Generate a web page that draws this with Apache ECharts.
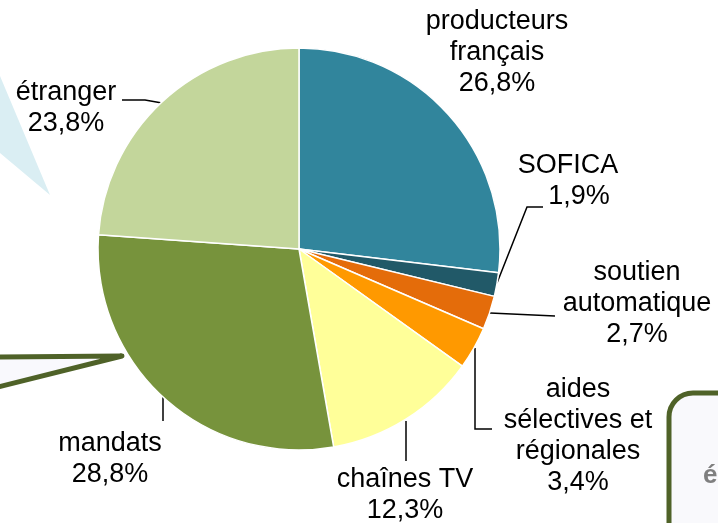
<!DOCTYPE html>
<html>
<head>
<meta charset="utf-8">
<script src="https://cdn.jsdelivr.net/npm/echarts@6/dist/echarts.min.js"></script>
<style>
  html, body { margin: 0; padding: 0; background: #fff; }
  #chart { width: 718px; height: 523px; }
</style>
</head>
<body>
<div id="chart"></div>
<script>
// parts of the financing (%), clockwise from 12 o'clock
const categories = ['producteurs\nfrançais', 'SOFICA', 'soutien\nautomatique', 'aides\nsélectives et\nrégionales', 'chaînes TV', 'mandats', 'étranger']
const values = [26.8, 1.9, 2.7, 3.4, 12.3, 28.8, 23.8]
const percentLabels = ['26,8%', '1,9%', '2,7%', '3,4%', '12,3%', '28,8%', '23,8%']
const colors = ['#31859C', '#215968', '#E46C0A', '#FF9900', '#FFFF99', '#77933C', '#C3D69B']

// where each label sits and how its guide line runs
const labelPos = [
  { x: 497, y: 53 },
  { x: 568, y: 181, line: [[497, 283], [527, 207], [543, 207]] },
  { x: 637, y: 304, line: [[490, 313], [555, 316]] },
  { x: 578, y: 436, line: [[475, 348], [475, 429], [492, 429]] },
  { x: 405, y: 495, line: [[406, 421], [406, 461]] },
  { x: 110, y: 459, line: [[163, 397], [163, 421]] },
  { x: 66, y: 108, line: [[162, 103], [145, 100], [122, 100]] }
]

const font = 'Liberation Sans, Arial, sans-serif'

const myChart = echarts.init(document.getElementById('chart'))
myChart.setOption({
  animation: false,
  textStyle: { fontFamily: font },
  graphic: [
    {
      type: 'polygon',
      z: 0,
      shape: { points: [[0, 76], [50, 195], [0, 153]] },
      style: { fill: '#DAEEF3' }
    },
    {
      type: 'polygon',
      z: 0,
      shape: { points: [[-10, 357], [122, 356], [-10, 389]] },
      style: { fill: '#F9F9FD', stroke: '#4F6228', lineWidth: 5, lineJoin: 'round' }
    },
    {
      type: 'rect',
      z: 0,
      shape: { x: 669, y: 393, width: 120, height: 200, r: 24 },
      style: { fill: '#F9F9FC', stroke: '#4F6228', lineWidth: 5 }
    },
    {
      type: 'text',
      z: 1,
      x: 703,
      y: 463,
      style: { text: 'é', fill: '#7F7F7F', font: 'bold 26px ' + font }
    }
  ],
  series: [{
    type: 'pie',
    center: [299, 249],
    radius: 201,
    startAngle: 90,
    clockwise: true,
    avoidLabelOverlap: false,
    itemStyle: { borderColor: '#fff', borderWidth: 1.5 },
    label: {
      show: true,
      color: '#000',
      fontSize: 27,
      lineHeight: 31,
      align: 'center',
      fontFamily: font,
      // SOFICA's value sits a bit right of its name, past the end of the guide line
      formatter: p => p.dataIndex === 1
        ? p.name + '\n{shift|' + percentLabels[p.dataIndex] + '}'
        : p.name + '\n' + percentLabels[p.dataIndex],
      rich: {
        shift: { fontSize: 27, lineHeight: 31, color: '#000', fontFamily: font, padding: [0, 0, 0, 22] }
      }
    },
    labelLine: { show: true, lineStyle: { color: '#000', width: 1.5 } },
    labelLayout: p => {
      const pos = labelPos[p.dataIndex]
      const out = { x: pos.x, y: pos.y, align: 'center', verticalAlign: 'middle' }
      if (pos.line) out.labelLinePoints = pos.line
      return out
    },
    emphasis: { disabled: true },
    data: categories.map((name, i) => ({
      name,
      value: values[i],
      itemStyle: { color: colors[i] },
      labelLine: { show: !!labelPos[i].line }
    }))
  }]
})
</script>
</body>
</html>
